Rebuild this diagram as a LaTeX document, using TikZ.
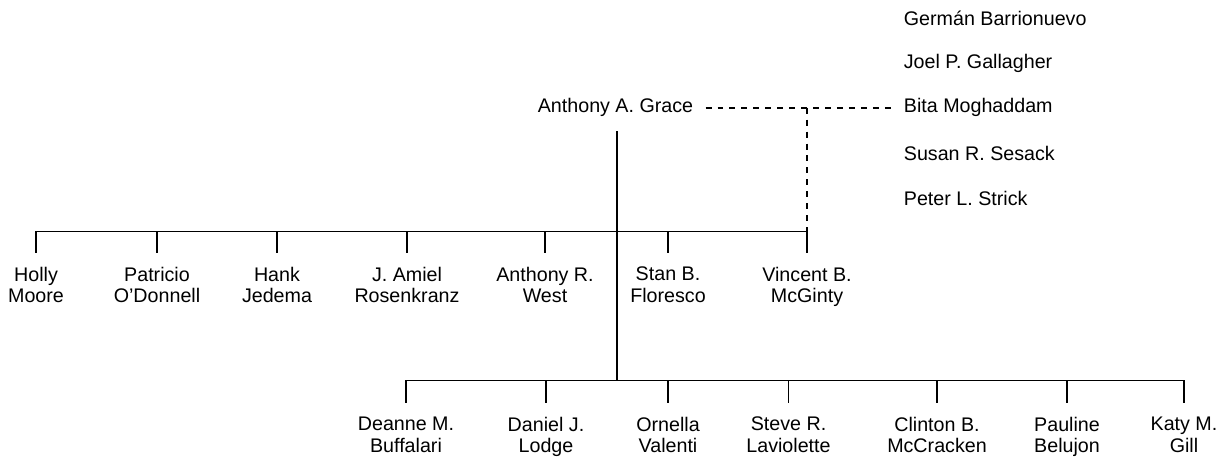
\documentclass[tikz,border=0pt]{standalone}
\usepackage{fontspec}
\setmainfont{Liberation Sans}
\begin{document}
\begin{tikzpicture}[x=0.02cm, y=-0.02cm, line width=1.1pt, line cap=rect,
  persona/.style={align=center, inner xsep=6.5pt, inner ysep=8pt, font=\fontsize{11.2}{12.2}\selectfont},
  punteado/.style={line cap=butt, dash pattern=on 3.4pt off 3.4pt}]
  \useasboundingbox (0,0) rectangle (1226,456);
  % el jefe, y los colegas de la derecha
  \node[persona] (grace) at (615.5,107.7) {Anthony A. Grace};
  \foreach \n/\y/\t in {barrionuevo/18/Germán Barrionuevo, gallagher/63/Joel P. Gallagher,
                        moghaddam/107.7/Bita Moghaddam, sesack/153/Susan R. Sesack, strick/198/Peter L. Strick} {
    \node[persona, anchor=west] (\n) at (891.5,\y) {\t};
  }
  % las dos barras y el tronco
  \coordinate (arriba) at (0,231.5);
  \coordinate (abajo) at (0,380.5);
  \coordinate (tronco) at (617,0);
  % primera fila
  \foreach \n/\x/\t in {moore/36/{Holly\\Moore}, odonnell/157/{Patricio\\O'Donnell}, jedema/277/{Hank\\Jedema},
                        rosenkranz/407/{J. Amiel\\Rosenkranz}, west/545/{Anthony R.\\West},
                        floresco/668/{Stan B.\\Floresco}, mcginty/807/{Vincent B.\\McGinty}} {
    \node[persona, anchor=north] (\n) at (\x,252) {\t};
    \draw (\n.north |- arriba) -- (\n.north);
  }
  % segunda fila
  \foreach \n/\x/\t in {buffalari/406/{Deanne M.\\Buffalari}, lodge/546/{Daniel J.\\Lodge},
                        valenti/668/{Ornella\\Valenti}, laviolette/788.5/{Steve R.\\Laviolette},
                        mccracken/937/{Clinton B.\\McCracken}, belujon/1067/{Pauline\\Belujon}, gill/1184/{Katy M.\\Gill}} {
    \node[persona, anchor=north] (\n) at (\x,402) {\t};
    \draw (\n.north |- abajo) -- (\n.north);
  }
  \draw (moore.north |- arriba) -- (mcginty.north |- arriba);
  \draw (buffalari.north |- abajo) -- (gill.north |- abajo);
  \draw (tronco |- grace.south) -- (tronco |- abajo);
  % la rama punteada hacia Bita
  \draw[punteado] (grace.east) -- (moghaddam.west);
  \draw[punteado] (mcginty.north |- grace.east) -- (mcginty.north |- arriba);
\end{tikzpicture}
\end{document}
